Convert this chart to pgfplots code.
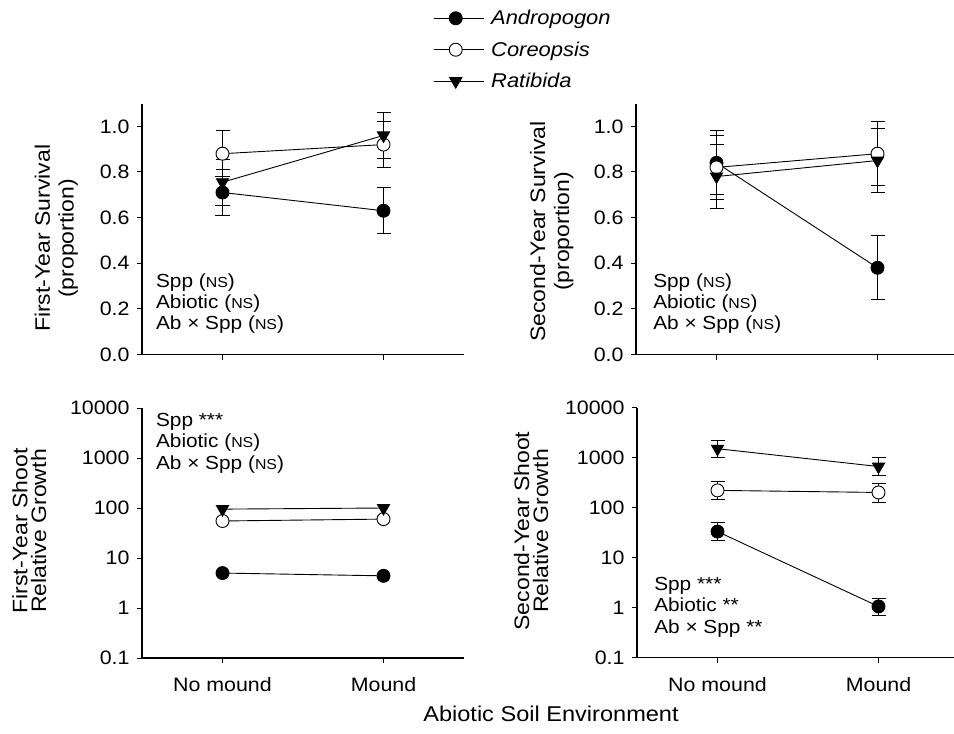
\documentclass[border=0pt]{standalone}
\usepackage{fontspec}
\setmainfont{Liberation Sans}[FakeStretch=1.1]
\usepackage{pgfplots}
\pgfplotsset{compat=1.18}

\newcommand{\ns}{{\fontsize{14.5}{16}\selectfont NS}}

\pgfplotsset{
  panel/.style={
    scale only axis, width=322bp, height=251bp, anchor=south west,
    xmin=-0.5, xmax=1.5, xtick={0,1},
    axis x line=bottom, axis y line=left,
    axis line style={-, line width=1.1bp},
    tick align=outside, major tick length=5bp,
    tick style={black, line width=1bp},
    clip=false,
    every axis plot/.append style={black, line width=0.9bp},
    error bars/error bar style={line width=0.9bp},
    error bars/error mark options={black, line width=0.9bp, mark size=7bp, rotate=90},
    ylabel style={font=\fontsize{21}{24}\selectfont, align=center, anchor=center},
    tick label style={font=\fontsize{19.5}{21}\selectfont},
    yticklabel style={xshift=-4bp},
    xticklabel style={yshift=-11bp},
  },
  surv/.style={ymin=0, ymax=1.1, ytick={0,0.2,0.4,0.6,0.8,1},
    yticklabels={0.0,0.2,0.4,0.6,0.8,1.0}, xticklabels={}},
  andr/.style={mark=*, mark size=6.5bp, mark options={fill=black, solid}},
  core/.style={mark=*, mark size=6.5bp, mark options={fill=white, solid}},
  rati/.style={mark=triangle*, mark size=7bp, mark options={fill=black, rotate=180, solid}},
  ebar/.style={error bars/.cd, y dir=both, y explicit},
}
\tikzset{note/.style={anchor=north west, align=left, inner sep=0pt, font=\fontsize{19}{21.5}\selectfont}}

\begin{document}
\begin{tikzpicture}
\path[use as bounding box] (0,0) rectangle (954bp,-734bp);

% First-year survival
\begin{axis}[panel, surv, at={(142bp,-354.5bp)},
    ylabel={First-Year Survival\\(proportion)},
    ylabel style={at={(axis description cs:-0.266,0.463)}},
    legend style={at={(axis description cs:0.904,1.38)}, anchor=north west,
      draw=none, fill=none, inner sep=0pt, row sep=11.5bp, nodes={inner sep=2bp},
      font=\fontsize{20}{22}\selectfont,
      /tikz/every odd column/.append style={column sep=5bp}},
    legend cell align=left,
    legend image code/.code={\draw[mark repeat=2,mark phase=2,#1]
      plot coordinates {(0bp,0bp) (22bp,0bp) (50bp,0bp)};}]
\addplot[andr, ebar] coordinates {(0,0.71) +- (0,0.10) (1,0.63) +- (0,0.10)};
\addlegendentry{\textit{Andropogon}}
\addplot[core, ebar] coordinates {(0,0.88) +- (0,0.10) (1,0.92) +- (0,0.10)};
\addlegendentry{\textit{Coreopsis}}
\addplot[rati, ebar] coordinates {(0,0.755) +- (0,0.10) (1,0.96) +- (0,0.10)};
\addlegendentry{\textit{Ratibida}}
\node[note] at (axis description cs:0.043,0.324)
  {Spp (\ns)\\Abiotic (\ns)\\Ab × Spp (\ns)};
\end{axis}

% Second-year survival
\begin{axis}[panel, surv, at={(636bp,-354.5bp)},
    ylabel={Second-Year Survival\\(proportion)},
    ylabel style={at={(axis description cs:-0.262,0.49)}}]
\addplot[andr, ebar] coordinates {(0,0.84) +- (0,0.14) (1,0.38) +- (0,0.14)};
\addplot[core, ebar] coordinates {(0,0.82) +- (0,0.14) (1,0.88) +- (0,0.14)};
\addplot[rati, ebar] coordinates {(0,0.78) +- (0,0.14) (1,0.85) +- (0,0.14)};
\node[note] at (axis description cs:0.053,0.324)
  {Spp (\ns)\\Abiotic (\ns)\\Ab × Spp (\ns)};
\end{axis}

% First-year shoot growth
\begin{axis}[panel, ymode=log, ymin=0.1, ymax=10000,
    ytick={0.1,1,10,100,1000,10000}, yticklabels={0.1,1,10,100,1000,10000},
    yminorticks=false, xticklabels={No mound, Mound},
    at={(142bp,-658bp)}, height=250bp,
    ylabel={First-Year Shoot\\Relative Growth},
    ylabel style={at={(axis description cs:-0.35,0.508)}, font=\fontsize{21}{19}\selectfont}]
\addplot[andr] coordinates {(0,5.0) (1,4.4)};
\addplot[core] coordinates {(0,55) (1,60)};
\addplot[rati] coordinates {(0,95) (1,100)};
\node[note] at (axis description cs:0.043,0.98)
  {Spp ***\\Abiotic (\ns)\\Ab × Spp (\ns)};
\end{axis}

% Second-year shoot growth
\begin{axis}[panel, ymode=log, ymin=0.1, ymax=10000,
    ytick={0.1,1,10,100,1000,10000}, yticklabels={0.1,1,10,100,1000,10000},
    yminorticks=false, xticklabels={No mound, Mound},
    at={(637bp,-657.5bp)}, height=250bp,
    ylabel={Second-Year Shoot\\Relative Growth},
    ylabel style={at={(axis description cs:-0.329,0.506)}, font=\fontsize{21}{19}\selectfont}]
\addplot[andr, ebar] coordinates {(0,33) += (0,17) -= (0,11) (1,1.05) += (0,0.45) -= (0,0.35)};
\addplot[core, ebar] coordinates {(0,220) += (0,110) -= (0,75) (1,200) += (0,100) -= (0,74)};
\addplot[rati, ebar] coordinates {(0,1500) += (0,700) -= (0,500) (1,660) += (0,340) -= (0,224)};
\node[note] at (axis description cs:0.053,0.322)
  {Spp ***\\Abiotic **\\Ab × Spp **};
\end{axis}

\node[font=\fontsize{21.5}{24}\selectfont] at (551bp,-714bp) {Abiotic Soil Environment};
\end{tikzpicture}
\end{document}
